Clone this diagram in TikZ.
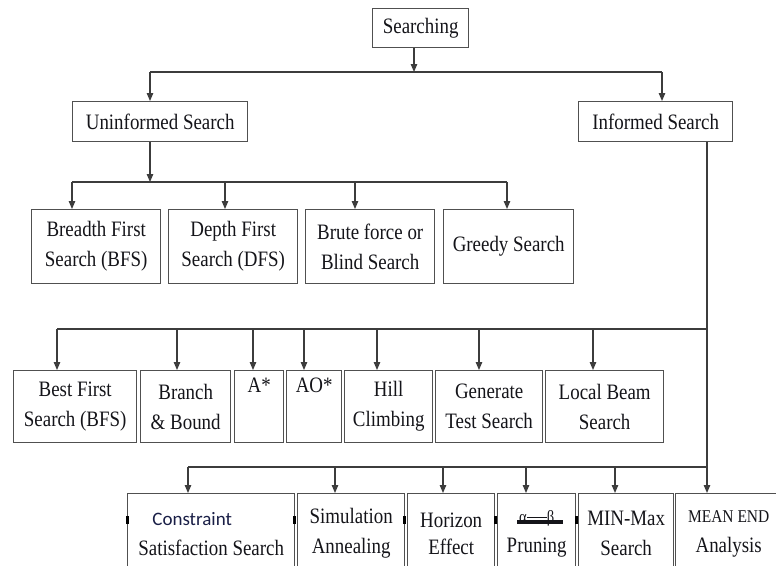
\documentclass[tikz,border=0pt]{standalone}
\usepackage{fontspec}
\setmainfont{Liberation Serif}[FakeStretch=0.86]
\newfontfamily\cfont{Carlito}
\usetikzlibrary{arrows.meta}
\definecolor{linec}{RGB}{60,60,60}
\definecolor{boxc}{RGB}{80,80,80}
\definecolor{txtc}{RGB}{20,20,25}
\definecolor{ctxt}{RGB}{25,30,70}
\tikzset{
  box/.style={draw=boxc, line width=1.4pt, inner sep=0pt, align=center, anchor=north west,
    text=txtc, font=\fontsize{22}{30}\selectfont},
  wire/.style={draw=linec, line width=1.2pt},
  arr/.style={wire, -{Triangle[length=8pt,width=6.5pt]}}
}
\begin{document}
\begin{tikzpicture}[x=1pt,y=-1pt]
\useasboundingbox (0,0) rectangle (776,565);
\clip (0,0) rectangle (776,565);
% row 1
\node[box, minimum width=96pt, minimum height=39pt] (S) at (372,8) {Searching};
\node[box, minimum width=175pt, minimum height=40pt] (U) at (72,101) {Uninformed Search};
\node[box, minimum width=154pt, minimum height=40pt] (I) at (578,101) {Informed Search};
% row 2
\node[box, minimum width=129pt, minimum height=74pt] (b1) at (31,209) {Breadth First\\Search (BFS)};
\node[box, minimum width=129pt, minimum height=74pt] (b2) at (168,209) {Depth First\\Search (DFS)};
\node[box, minimum width=129pt, minimum height=74pt] (b3) at (305,209) {Brute force or\\Blind Search};
\node[box, minimum width=130pt, minimum height=74pt] (b4) at (443,209) {\raisebox{-3pt}{Greedy Search}};
% row 3
\node[box, minimum width=123pt, minimum height=72pt] (c1) at (13,370) {Best First\\Search (BFS)};
\node[box, minimum width=90pt, minimum height=72pt] (c2) at (140,370) {Branch\\\& Bound};
\node[box, minimum width=49pt, minimum height=72pt] (c3) at (234,370) {\raisebox{8pt}{A*}\\\phantom{(g}};
\node[box, minimum width=55pt, minimum height=72pt] (c4) at (286,370) {\raisebox{8pt}{AO*}\\\phantom{(g}};
\node[box, minimum width=88pt, minimum height=72pt] (c5) at (344,370) {Hill\\Climbing};
\node[box, minimum width=107pt, minimum height=72pt] (c6) at (435,370) {Generate\\Test Search};
\node[box, minimum width=118pt, minimum height=72pt] (c7) at (545,370) {Local Beam\\Search};
% row 4
\node[box, minimum width=167pt, minimum height=80pt] (d1) at (127,493) {{\cfont\color{ctxt}\fontsize{19}{30}\selectfont Constraint}\hspace*{38pt}\\Satisfaction Search};
\node[box, minimum width=107pt, minimum height=80pt] (d2) at (297,493) {Simulation\\Annealing};
\node[box, minimum width=87pt, minimum height=80pt] (d3) at (407,493) {\raisebox{-3pt}{Horizon}\\Effect};
\node[box, minimum width=78pt, minimum height=80pt] (d4) at (497,493) {\makebox[0pt][l]{\hspace*{-2pt}\rule[-1.5pt]{46pt}{4pt}}{\fontsize{17}{17}\selectfont α\rule[4pt]{20pt}{0.9pt}β}\\Pruning};
\node[box, minimum width=95pt, minimum height=80pt] (d5) at (578,493) {MIN-Max\\Search};
\node[box, minimum width=106pt, minimum height=80pt] (d6) at (675,493) {{\fontsize{18}{30}\selectfont MEAN END}\\Analysis};
% small marks on box edges
\foreach \mx in {127,294,404,495,576} {
  \fill[black] (\mx-1.5,516) rectangle (\mx+1.5,524);
}
% connectors level 1
\coordinate (t0) at (414,72);
\coordinate (tL) at (150,72);
\coordinate (tR) at (662,72);
\draw[arr] (t0 |- S.south) -- (t0);
\draw[wire] (tL) -- (tR);
\draw[arr] (tL) -- (tL |- U.north);
\draw[arr] (tR) -- (tR |- I.north);
% uninformed
\coordinate (u0) at (150,182);
\coordinate (u1) at (72,182);
\coordinate (u2) at (225,182);
\coordinate (u3) at (355,182);
\coordinate (u4) at (507,182);
\draw[arr] (u0 |- U.south) -- (u0);
\draw[wire] (u1) -- (u4);
\draw[arr] (u1) -- (u1 |- b1.north);
\draw[arr] (u2) -- (u2 |- b2.north);
\draw[arr] (u3) -- (u3 |- b3.north);
\draw[arr] (u4) -- (u4 |- b4.north);
% informed
\coordinate (iv) at (707,329);
\coordinate (iw) at (707,467);
\draw[arr] (iv |- I.south) -- (iv |- d6.north);
\coordinate (v1) at (57,329);
\coordinate (v2) at (177,329);
\coordinate (v3) at (253,329);
\coordinate (v4) at (304,329);
\coordinate (v5) at (377,329);
\coordinate (v6) at (479,329);
\coordinate (v7) at (593,329);
\draw[wire] (v1) -- (iv);
\draw[arr] (v1) -- (v1 |- c1.north);
\draw[arr] (v2) -- (v2 |- c2.north);
\draw[arr] (v3) -- (v3 |- c3.north);
\draw[arr] (v4) -- (v4 |- c4.north);
\draw[arr] (v5) -- (v5 |- c5.north);
\draw[arr] (v6) -- (v6 |- c6.north);
\draw[arr] (v7) -- (v7 |- c7.north);
\coordinate (w1) at (188,467);
\coordinate (w2) at (335,467);
\coordinate (w3) at (443,467);
\coordinate (w4) at (526,467);
\coordinate (w5) at (615,467);
\draw[wire] (w1) -- (iw);
\draw[arr] (w1) -- (w1 |- d1.north);
\draw[arr] (w2) -- (w2 |- d2.north);
\draw[arr] (w3) -- (w3 |- d3.north);
\draw[arr] (w4) -- (w4 |- d4.north);
\draw[arr] (w5) -- (w5 |- d5.north);
\end{tikzpicture}
\end{document}
